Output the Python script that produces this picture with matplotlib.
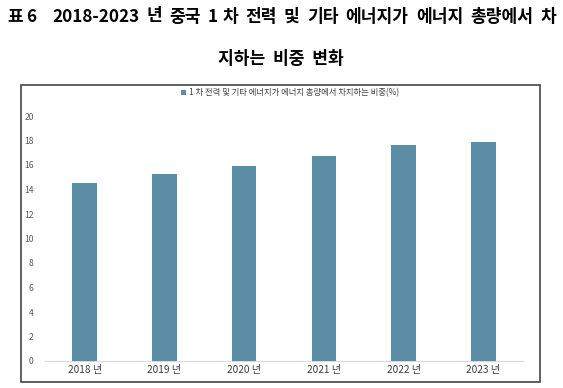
import matplotlib
matplotlib.use("Agg")
import matplotlib.pyplot as plt
from matplotlib.patches import Rectangle

plt.rcParams['font.family'] = ['Noto Sans CJK KR', 'DejaVu Sans']

categories = ["2018 년", "2019 년", "2020 년", "2021 년", "2022 년", "2023 년"]
values = [14.5, 15.3, 15.9, 16.7, 17.6, 17.9]
series_name = "1 차 전력 및 기타 에너지가 에너지 총량에서 차지하는 비중(%)"
title_words = ["표", "6", "2018-2023", "년", "중국", "1", "차", "전력", "및", "기타",
               "에너지가", "에너지", "총량에서", "차"]
title_gap_weights = [0.5, 2.2, 1, 1, 1, 0.6, 1, 1, 1, 1, 1, 1, 1]
title_line2 = "지하는  비중  변화"
yticks = [0, 2, 4, 6, 8, 10, 12, 14, 16, 18, 20]

W, H = 563, 388
fig = plt.figure(figsize=(W / 100, H / 100), dpi=100)

# chart frame
fig.patches.append(Rectangle((21 / W, 1 - 382 / H), (540 - 21) / W, (382 - 85) / H,
                             transform=fig.transFigure, fill=False,
                             edgecolor="#444444", linewidth=1.2))

ax = fig.add_axes([44.8 / W, 1 - 361 / H, (523.2 - 44.8) / W, (361 - 116) / H])
x = range(len(categories))
bars = ax.bar(x, values, width=0.31, color="#5b8ea6", label=series_name, zorder=3)
ax.set_xlim(-0.5, len(categories) - 0.5)
ax.set_ylim(0, 20)
ax.set_yticks(yticks)
ax.set_yticklabels([str(t) for t in yticks], fontsize=6.2, color="#595959")
ax.set_xticks(list(x))
ax.set_xticklabels(categories, fontsize=7.3, color="#404040")
ax.tick_params(axis="y", length=0, pad=8)
ax.tick_params(axis="x", length=0, pad=3)
for s in ["top", "right", "left"]:
    ax.spines[s].set_visible(False)
ax.spines["bottom"].set_color("#d9d9d9")
ax.spines["bottom"].set_linewidth(0.8)

fig.legend(handles=[bars], labels=[series_name], loc="center",
           bbox_to_anchor=(290 / W, 1 - 93 / H), frameon=False, fontsize=6.0,
           handlelength=0.6, handleheight=0.6, handletextpad=0.3,
           labelcolor="#404040")

# title line 1: words spread across the measured span
left_px, right_px, ty = 7, 556, 16.5
texts = [fig.text(0, 1 - ty / H, w, fontsize=12.3, fontweight="bold",
                  ha="left", va="center", color="black") for w in title_words]
renderer = fig.canvas.get_renderer()
widths = [t.get_window_extent(renderer).width for t in texts]
free = (right_px - left_px) - sum(widths)
unit = free / sum(title_gap_weights)
pos = left_px
for i, t in enumerate(texts):
    t.set_x(pos / W)
    pos += widths[i]
    if i < len(title_gap_weights):
        pos += unit * title_gap_weights[i]

fig.text(281 / W, 1 - 59 / H, title_line2, fontsize=12.3, fontweight="bold",
         ha="center", va="center", color="black")

fig.savefig("out.png", dpi=100)
